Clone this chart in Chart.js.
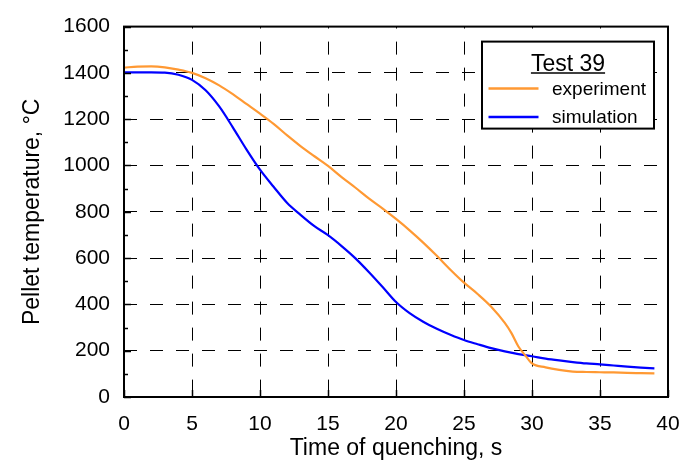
<!DOCTYPE html>
<html>
<head>
<meta charset="utf-8">
<script src="https://cdn.jsdelivr.net/npm/chart.js@4.4.1/dist/chart.umd.min.js"></script>
<style>
  html, body { margin: 0; padding: 0; background: #ffffff; }
  #wrap { width: 696px; height: 462px; }
</style>
</head>
<body>
<div id="wrap"><canvas id="chart" width="696" height="462"></canvas></div>
<script>
// Pellet temperature during quenching, Test 39
const legendTitle = 'Test 39';
const seriesNames = ['experiment', 'simulation'];

const expTime = [0, 1, 2, 3, 4, 5, 6, 7, 8, 9, 10, 11, 12, 13, 14, 15, 16, 17, 18, 19, 20,
                 21, 22, 23, 24, 25, 26, 27, 28, 28.5, 29, 29.5, 30, 31, 32, 33, 34, 35, 36, 37, 38, 39];
const expTemp = [1423, 1427, 1428, 1424, 1414, 1400, 1377, 1346, 1308, 1266, 1224, 1180, 1130, 1083, 1040, 998, 950, 905, 858, 815, 769,
                 720, 667, 610, 550, 494, 445, 390, 320, 275, 218, 180, 145, 128, 117, 110, 108, 107, 106, 104, 103, 102];

const simTime = [0, 1, 2, 3, 4, 5, 6, 7, 8, 9, 10, 11, 12, 13, 14, 15, 16, 17, 18, 19, 20,
                 21, 22, 23, 24, 25, 26, 27, 28, 29, 30, 31, 32, 33, 34, 35, 36, 37, 38, 39];
const simTemp = [1402, 1402, 1402, 1401, 1392, 1370, 1325, 1255, 1165, 1070, 982, 908, 838, 786, 738, 699, 652, 600, 540, 476, 410,
                 362, 325, 295, 269, 246, 228, 211, 197, 185, 176, 166, 158, 151, 145, 141, 136, 131, 127, 124];

const xTickValues = [0, 5, 10, 15, 20, 25, 30, 35, 40];
const xTickLabels = ['0', '5', '10', '15', '20', '25', '30', '35', '40'];
const yTickValues = [0, 200, 400, 600, 800, 1000, 1200, 1400, 1600];
const yTickLabels = ['0', '200', '400', '600', '800', '1000', '1200', '1400', '1600'];

const FONT = "'Liberation Sans', Arial, sans-serif";
const colors = ['#ff9933', '#0000ff'];

const toPoints = (xs, ys) => xs.map((t, i) => ({ x: t, y: ys[i] }));

// Frame, inward tick marks and the boxed legend
const framePlugin = {
  id: 'frameAndLegend',
  afterDraw(chart) {
    const { ctx, chartArea: a, scales: { x, y } } = chart;
    ctx.save();
    ctx.strokeStyle = '#000';
    ctx.setLineDash([]);

    // inward ticks on the bottom axis
    ctx.lineWidth = 1.5;
    ctx.beginPath();
    xTickValues.forEach(v => {
      const px = Math.round(x.getPixelForValue(v)) + 0.5;
      ctx.moveTo(px, a.bottom);
      ctx.lineTo(px, a.bottom - 7);
    });
    // major and minor inward ticks on the left axis
    for (let v = y.min; v <= y.max; v += 100) {
      const py = Math.round(y.getPixelForValue(v)) + 0.5;
      const len = (v % 200 === 0) ? 7 : 4;
      ctx.moveTo(a.left, py);
      ctx.lineTo(a.left + len, py);
    }
    ctx.stroke();

    // plot frame
    ctx.lineWidth = 2;
    ctx.strokeRect(a.left, a.top, a.right - a.left, a.bottom - a.top);

    // legend box
    const bx = a.right - 186, by = a.top + 15, bw = 172, bh = 87;
    ctx.fillStyle = '#fff';
    ctx.fillRect(bx, by, bw, bh);
    ctx.lineWidth = 2;
    ctx.strokeRect(bx, by, bw, bh);

    // legend title, underlined
    ctx.fillStyle = '#000';
    ctx.font = '23px ' + FONT;
    ctx.textAlign = 'center';
    ctx.textBaseline = 'alphabetic';
    const cx = bx + bw / 2;
    const tyBase = by + 29.5;
    ctx.fillText(legendTitle, cx, tyBase);
    const tw = ctx.measureText(legendTitle).width;
    ctx.lineWidth = 1.5;
    ctx.beginPath();
    ctx.moveTo(cx - tw / 2, tyBase + 2);
    ctx.lineTo(cx + tw / 2, tyBase + 2);
    ctx.stroke();

    // legend entries
    ctx.font = '19px ' + FONT;
    ctx.textAlign = 'left';
    chart.data.datasets.forEach((ds, i) => {
      const ly = by + 47 + i * 28.3;
      ctx.strokeStyle = ds.borderColor;
      ctx.lineWidth = 2.5;
      ctx.beginPath();
      ctx.moveTo(bx + 6.5, ly);
      ctx.lineTo(bx + 56.5, ly);
      ctx.stroke();
      ctx.fillStyle = '#000';
      ctx.fillText(ds.label, bx + 70, ly + 6.5);
    });
    ctx.restore();
  }
};

new Chart(document.getElementById('chart'), {
  type: 'line',
  data: {
    datasets: [
      {
        label: seriesNames[0],
        data: toPoints(expTime, expTemp),
        borderColor: colors[0],
        borderWidth: 2.2,
        pointRadius: 0,
        fill: false,
        cubicInterpolationMode: 'monotone'
      },
      {
        label: seriesNames[1],
        data: toPoints(simTime, simTemp),
        borderColor: colors[1],
        borderWidth: 2.2,
        pointRadius: 0,
        fill: false,
        cubicInterpolationMode: 'monotone'
      }
    ]
  },
  options: {
    responsive: false,
    animation: false,
    devicePixelRatio: 1,
    layout: { padding: { top: 15, right: 28, left: 0, bottom: 0 } },
    plugins: {
      legend: { display: false },
      tooltip: { enabled: false }
    },
    scales: {
      x: {
        type: 'linear',
        min: 0,
        max: 40,
        afterBuildTicks: s => { s.ticks = xTickValues.map(v => ({ value: v })); },
        afterFit: s => { s.height = 65; },
        border: { display: false, dash: [13, 13], dashOffset: 11 },
        grid: {
          color: '#000',
          lineWidth: 1,
          drawTicks: false
        },
        ticks: {
          color: '#000',
          padding: 15,
          maxRotation: 0,
          font: { family: FONT, size: 21 },
          callback: (v, i) => xTickLabels[i]
        },
        title: {
          display: true,
          text: 'Time of quenching, s',
          color: '#000',
          padding: { top: 0, bottom: 0 },
          font: { family: FONT, size: 23 }
        }
      },
      y: {
        min: 0,
        max: 1600,
        afterBuildTicks: s => { s.ticks = yTickValues.map(v => ({ value: v })); },
        afterFit: s => { s.width = 124; },
        border: { display: false, dash: [13, 13], dashOffset: 0 },
        grid: {
          color: '#000',
          lineWidth: 1,
          drawTicks: false
        },
        ticks: {
          color: '#000',
          padding: 14,
          font: { family: FONT, size: 21 },
          callback: (v, i) => yTickLabels[i]
        },
        title: {
          display: true,
          text: 'Pellet temperature, °C',
          color: '#000',
          padding: { top: 19, bottom: 0 },
          font: { family: FONT, size: 23 }
        }
      }
    }
  },
  plugins: [framePlugin]
});
</script>
</body>
</html>
